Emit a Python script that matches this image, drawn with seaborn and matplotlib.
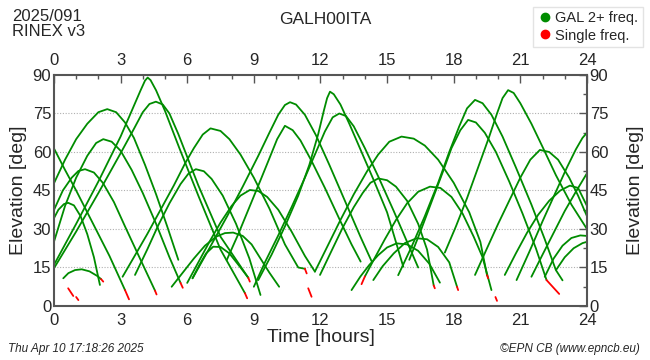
import matplotlib
matplotlib.use("Agg")
import matplotlib.pyplot as plt
import seaborn as sns
import pandas as pd
from matplotlib.lines import Line2D
from matplotlib.ticker import MultipleLocator

sns.set_theme(style="white")
plt.rcParams['font.family'] = ['Liberation Sans', 'DejaVu Sans']

# ---- data: satellite passes (time [h], elevation [deg]) ----
arc_a = [(0, 61.4), (0.5, 53), (1, 45), (1.5, 36.5), (2, 28), (2.5, 19.5), (3, 10), (3.2, 6.2)]
arc_b = [(0, 16), (1, 32), (2, 48.5), (3, 66), (3.5, 76), (3.9, 84), (4.1, 87.8), (4.22, 89), (4.35, 88),
         (4.6, 84), (5.0, 76), (5.67, 61), (6.5, 43), (7.5, 22), (8.6, 5)]
arc_c = [(0, 14.7), (1, 29), (2, 44), (3, 59.5), (3.6, 69), (4.0, 75.5), (4.3, 78.7), (4.59, 79.6),
         (4.9, 78.5), (5.2, 75), (5.6, 67), (6.5, 47), (7.5, 27), (8.75, 11)]
arc_d = [(0, 47.8), (0.5, 57), (1.0, 65), (1.5, 71), (2.0, 75.5), (2.4, 76.7), (2.8, 75.5), (3.2, 71.5),
         (3.6, 65.5), (4.1, 55), (4.6, 43.5), (5.1, 31), (5.6, 18)]
arc_e = [(0, 25), (0.5, 39), (1.0, 50), (1.5, 58.5), (1.9, 63.5), (2.22, 65), (2.6, 64), (3.0, 60.5),
         (3.5, 53), (4.0, 44), (4.6, 32), (5.2, 19), (5.7, 9)]
arc_f = [(0, 37.4), (0.4, 45), (0.8, 50), (1.1, 52.6), (1.4, 53.3), (1.8, 52), (2.2, 48), (2.7, 40.5),
         (3.2, 31), (3.9, 18), (4.55, 6)]
arc_g = [(0, 34.2), (0.2, 37.5), (0.45, 39.7), (0.64, 40.2), (0.9, 39.2), (1.2, 35), (1.5, 28),
         (1.8, 19), (2.07, 8.2)]
arc_ae = [(0.42, 10.8), (0.65, 12.8), (0.95, 14), (1.25, 14.3), (1.6, 13.5), (1.95, 11.7), (2.12, 10.5)]
arc_h = [(3.65, 12.1), (4.2, 22), (4.7, 31.5), (5.2, 40), (5.7, 47.5), (6.05, 51.5), (6.39, 53.3),
         (6.75, 52.5), (7.1, 49.5), (7.6, 43), (8.2, 32), (8.8, 18.5), (9.3, 4.3)]
arc_i = [(3.09, 11.4), (3.6, 19), (4.2, 28), (4.8, 37.5), (5.4, 47), (5.9, 55.5), (6.3, 61.5), (6.7, 66.8),
         (7.05, 69.2), (7.5, 68.2), (7.9, 65), (8.4, 59), (9.0, 50), (9.7, 38), (10.4, 24), (11.0, 15),
         (11.3, 14.5)]
arc_j = [(6.24, 10.8), (6.55, 16), (6.85, 20.5), (7.17, 23.1), (7.5, 23), (7.9, 20.5), (8.4, 15), (8.75, 11)]
arc_k = [(5.3, 7.5), (5.8, 13), (6.3, 18.5), (6.8, 23.5), (7.3, 27), (7.7, 28.4), (8.07, 28.6), (8.5, 27.3),
         (8.9, 24), (9.3, 18.5), (9.7, 13), (10.14, 7.5)]
arc_l = [(6.0, 9), (6.5, 17), (7.0, 25), (7.5, 32.5), (8.0, 39), (8.4, 43), (8.82, 45.2), (9.2, 44.8),
         (9.6, 42.5), (10.1, 37.5), (10.7, 29), (11.3, 19.5), (11.75, 13.4)]
arc_m = [(7.78, 17.9), (8.3, 28), (8.8, 38.5), (9.3, 49), (9.7, 57.5), (10.05, 65), (10.4, 70.2),
         (10.75, 68.5), (11.1, 64.5), (11.6, 56.5), (12.2, 46), (12.9, 33), (13.4, 24), (13.81, 17.3)]
arc_n = [(6.24, 10.8), (7, 22.5), (7.8, 35), (8.5, 46.5), (9.2, 58.5), (9.7, 67.5), (10.1, 74.5),
         (10.4, 78.3), (10.63, 79.4), (10.9, 78.5), (11.3, 74.5), (11.8, 66.5), (12.4, 55), (13.1, 41),
         (13.8, 27), (14.3, 17.5)]
arc_o = [(9.2, 10.1), (9.8, 20), (10.4, 31), (11.0, 43), (11.5, 55), (11.9, 67), (12.15, 76), (12.3, 81),
         (12.43, 83.5), (12.6, 82.5), (12.9, 78.5), (13.3, 71), (13.8, 61), (14.4, 49), (15.0, 36.5),
         (15.73, 15.3)]
arc_p = [(9.0, 7.5), (9.5, 17), (10.1, 27.5), (10.7, 38.5), (11.3, 50), (11.8, 60), (12.2, 68),
         (12.55, 73.5), (12.85, 75), (13.15, 74), (13.5, 70), (14.0, 61.5), (14.6, 50.5), (15.3, 37),
         (16.0, 23), (16.4, 15)]
arc_q = [(11.98, 12.1), (12.5, 21.5), (13.0, 30.5), (13.5, 38.5), (13.9, 44), (14.25, 48), (14.6, 49.7),
         (15.0, 49), (15.4, 46.5), (15.9, 41), (16.4, 32), (16.8, 22), (17.1, 8)]
arc_r = [(11.75, 13.4), (12.3, 23), (12.9, 33.5), (13.5, 43.5), (14.1, 52.5), (14.6, 59), (15.1, 64),
         (15.65, 66), (16.2, 65.2), (16.7, 62.5), (17.3, 57), (18.0, 48), (18.7, 36.5), (19.2, 25),
         (19.5, 12)]
arc_s = [(13.4, 6.2), (13.8, 11.5), (14.2, 16), (14.6, 19.8), (15.0, 22.8), (15.43, 24.4), (15.9, 24),
         (16.4, 21.5), (16.9, 16.5), (17.38, 9.1)]
arc_t = [(14.38, 10.1), (14.8, 15.5), (15.3, 20.5), (15.8, 24.5), (16.33, 26.4), (16.8, 26), (17.3, 23),
         (17.8, 17), (18.15, 7.5)]
arc_u = [(14.0, 11.5), (14.4, 18), (14.9, 26), (15.4, 33.5), (15.9, 40), (16.4, 44.5), (16.93, 46.5),
         (17.4, 46), (17.9, 42.5), (18.4, 36), (18.9, 27), (19.3, 19), (19.7, 6.2)]
arc_v = [(16, 18), (16.5, 29), (17.0, 40.5), (17.5, 52), (17.9, 61.5), (18.3, 68.5), (18.65, 72.5),
         (19.0, 71.5), (19.4, 67.5), (19.9, 60), (20.5, 48.5), (21.1, 36), (21.7, 22.5), (22.18, 10.1)]
arc_w = [(15.5, 12), (16.1, 23), (16.7, 35), (17.3, 48), (17.8, 60), (18.25, 70), (18.6, 77),
         (18.96, 80.3), (19.3, 79), (19.7, 74.5), (20.2, 66), (20.8, 54), (21.5, 39.5), (22.1, 26),
         (22.6, 14), (22.9, 10)]
arc_x = [(17.6, 20.8), (18.1, 31), (18.6, 42), (19.1, 54), (19.6, 66), (19.95, 75), (20.2, 81),
         (20.45, 84.1), (20.7, 83), (21.0, 79), (21.5, 71), (22.0, 62), (22.6, 51), (23.3, 39.5), (24, 30)]
arc_y = [(18.96, 12.1), (19.5, 22.5), (20.0, 32), (20.5, 41), (21.0, 50), (21.45, 57), (21.88, 60.8),
         (22.3, 60), (22.7, 57), (23.2, 50), (23.6, 43), (24, 35)]
arc_z = [(20.3, 12.1), (20.8, 20.5), (21.3, 28.5), (21.8, 35.5), (22.3, 41), (22.8, 45), (23.23, 46.9),
         (23.6, 46), (24, 39)]
arc_aa = [(20.83, 10.1), (21.4, 21), (22.0, 33), (22.6, 44.5), (23.1, 54), (23.5, 61), (23.8, 65.5),
          (24, 67.5)]
arc_ab = [(21.5, 11.4), (22.0, 20), (22.5, 28.5), (23.0, 37), (23.5, 44.5), (24, 51.7)]
arc_ac = [(22.1, 11.4), (22.5, 18.5), (22.9, 23.5), (23.3, 26.5), (23.7, 27.5), (24, 27.3)]
arc_ad = [(22.63, 14.3), (23.0, 19), (23.4, 22.5), (23.8, 24.5), (24, 25)]

# single-frequency (red) short pieces
red_1 = [(3.2, 6.2), (3.38, 2.6)]
red_2 = [(0.64, 6.9), (0.87, 3.9)]
red_3 = [(1.0, 3.5), (1.1, 2.3)]
red_4 = [(2.12, 10.5), (2.22, 9.5)]
red_5 = [(4.55, 6), (4.62, 4.5)]
red_6 = [(5.7, 9), (5.8, 7.1)]
red_7 = [(8.75, 11), (8.82, 9.5)]
red_8 = [(8.6, 5), (8.7, 3)]
red_9 = [(11.3, 14.5), (11.38, 12.7)]
red_10 = [(11.45, 6.9), (11.6, 3.6)]
red_11 = [(13.85, 8.5), (14.0, 11.5)]
red_12 = [(17.1, 8), (17.15, 6.9)]
red_13 = [(18.15, 7.5), (18.2, 6.2)]
red_14 = [(19.5, 12), (19.55, 10.8)]
red_15 = [(19.88, 3.5), (19.95, 2)]
red_16 = [(22.18, 10.1), (22.75, 4.7)]

green_arcs = [arc_a, arc_b, arc_c, arc_d, arc_e, arc_f, arc_g, arc_h, arc_i, arc_j,
              arc_k, arc_l, arc_m, arc_n, arc_o, arc_p, arc_q, arc_r, arc_s, arc_t,
              arc_u, arc_v, arc_w, arc_x, arc_y, arc_z, arc_aa, arc_ab, arc_ac, arc_ad, arc_ae]
red_pieces = [red_1, red_2, red_3, red_4, red_5, red_6, red_7, red_8, red_9, red_10,
              red_11, red_12, red_13, red_14, red_15, red_16]

def to_frame(arcs):
    rows = []
    for i, arc in enumerate(arcs):
        for t, e in arc:
            rows.append({"arc": i, "time": t, "elev": e})
    return pd.DataFrame(rows)

green_df = to_frame(green_arcs)
red_df = to_frame(red_pieces)

GREEN = "#008c00"
RED = "#ff0000"

fig = plt.figure(figsize=(6.5, 3.6), dpi=100)
ax = fig.add_axes([0.083, 0.15, 0.820, 0.6417])

sns.lineplot(data=green_df, x="time", y="elev", units="arc", estimator=None,
             sort=False, color=GREEN, lw=1.3, ax=ax, legend=False)
sns.lineplot(data=red_df, x="time", y="elev", units="arc", estimator=None,
             sort=False, color=RED, lw=1.3, ax=ax, legend=False)

ax.set_xlim(0, 24)
ax.set_ylim(0, 90)
ax.xaxis.set_major_locator(MultipleLocator(3))
ax.xaxis.set_minor_locator(MultipleLocator(1))
ax.yaxis.set_major_locator(MultipleLocator(15))
ax.yaxis.set_minor_locator(MultipleLocator(7.5))
for y in [15, 30, 45, 60, 75]:
    ax.axhline(y, color="#b0b0b0", lw=0.8, ls=(0, (1, 1.5)), zorder=0)
ax.tick_params(which="both", direction="in", top=True, right=True,
               labeltop=True, labelright=True, labelsize=12, pad=2, color="#555555")
ax.tick_params(axis="x", which="major", pad=5)
ax.tick_params(which="major", length=6, width=1)
ax.tick_params(which="minor", length=3, width=1)
for sp in ax.spines.values():
    sp.set_color("#555555")
    sp.set_linewidth(1.5)
ax.set_xlabel("Time [hours]", fontsize=14, labelpad=0.5)
ax.set_ylabel("Elevation [deg]", fontsize=14, labelpad=4)
ax2 = ax.secondary_yaxis("right")
ax2.set_yticks([])
ax2.set_ylabel("Elevation [deg]", fontsize=14, labelpad=29)
ax2.spines["right"].set_visible(False)

fig.text(0.018, 0.975, "2025/091\nRINEX v3", ha="left", va="top", fontsize=12, linespacing=1.0)
fig.text(0.50, 0.945, "GALH00ITA", ha="center", va="center", fontsize=12.5)
fig.text(0.012, 0.030, "Thu Apr 10 17:18:26 2025", ha="left", va="center", fontsize=8.5, style="italic")
fig.text(0.985, 0.030, "\u00a9EPN CB (www.epncb.eu)", ha="right", va="center", fontsize=8.5, style="italic")

handles = [Line2D([], [], marker="o", ls="none", color=GREEN, markersize=6),
           Line2D([], [], marker="o", ls="none", color=RED, markersize=6)]
fig.legend(handles, ["GAL 2+ freq.", "Single freq."], loc="upper right",
           bbox_to_anchor=(0.993, 0.99), fontsize=10.5, frameon=True, fancybox=False,
           edgecolor="#dddddd", handletextpad=0.2, borderpad=0.3, labelspacing=0.25,
           handlelength=1.0, borderaxespad=0.2)

fig.savefig("out.png", dpi=100)
